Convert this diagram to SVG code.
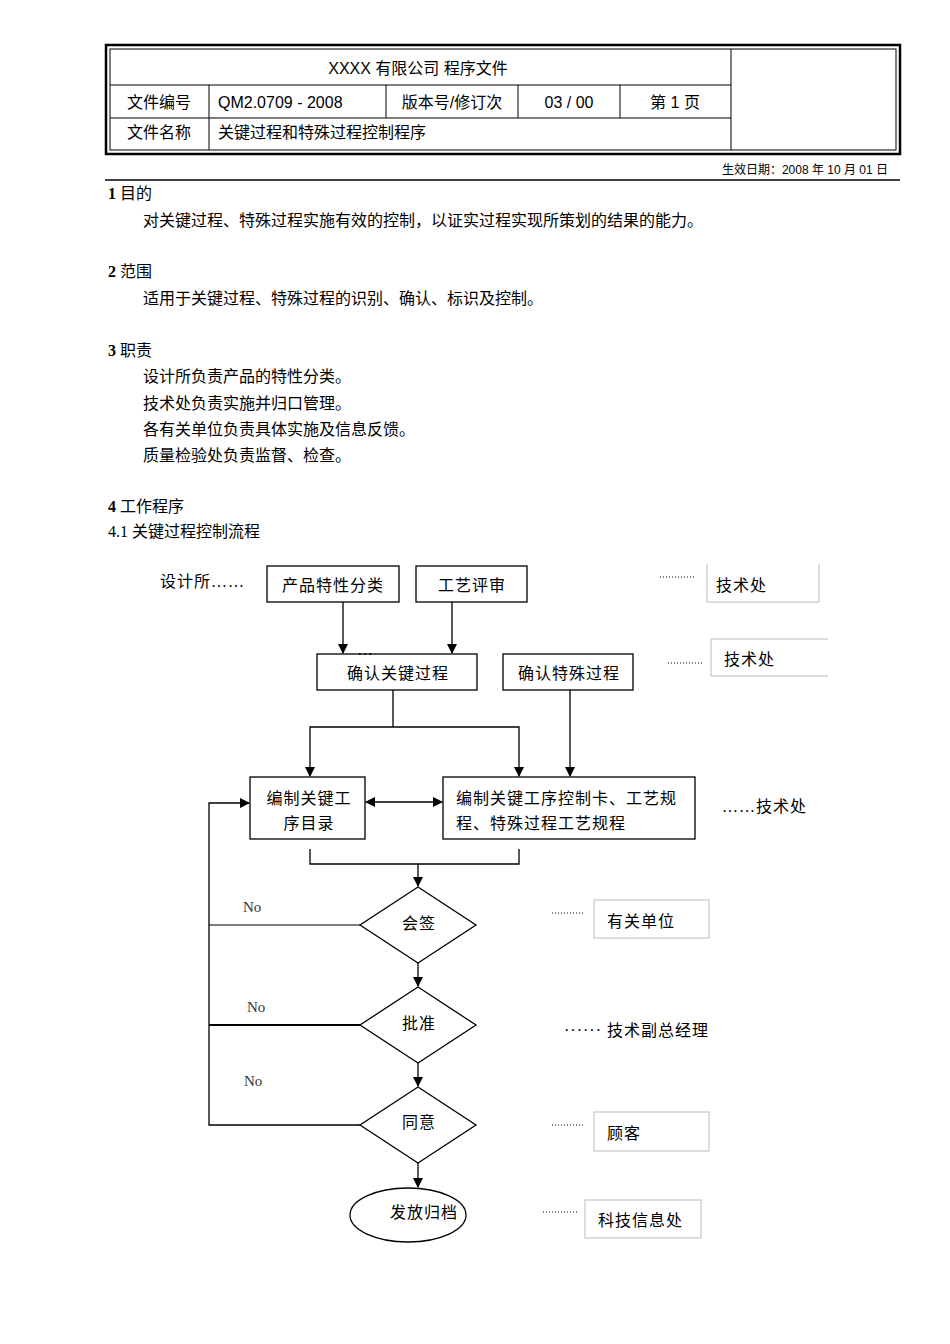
<svg xmlns="http://www.w3.org/2000/svg" width="950" height="1344" viewBox="0 0 950 1344">
<style>
.h{font-family:"Liberation Sans","Noto Sans CJK SC",sans-serif;font-size:16px;fill:#000}
.s{font-family:"Liberation Sans","Noto Sans CJK SC",sans-serif;font-size:12px;fill:#000}
.t{font-family:"Liberation Serif","Noto Sans CJK SC",serif;font-size:16px;fill:#000}
.f{font-family:"Liberation Serif","Noto Sans CJK SC",serif;font-size:16px;letter-spacing:1px;fill:#000}
.n{font-family:"Liberation Serif","Noto Sans CJK SC",serif;font-size:15px;fill:#333}
.b{fill:#fff;stroke:#000;stroke-width:1.3}
.g{fill:#fff;stroke:#bbb;stroke-width:1}
.l{fill:none;stroke:#000;stroke-width:1.3}
.d{fill:none;stroke:#000;stroke-width:1;stroke-dasharray:1 2}
</style>
<defs><marker id="a" markerWidth="10" markerHeight="10" refX="9" refY="5" orient="auto-start-reverse" markerUnits="userSpaceOnUse"><path d="M0,0 L10,5 L0,10 z" fill="#000"/></marker></defs>
<rect width="950" height="1344" fill="#fff"/>
<g id="header">
<rect x="106" y="45" width="794" height="109" fill="none" stroke="#000" stroke-width="2.5"/>
<rect x="110" y="49" width="786" height="101" fill="none" stroke="#000" stroke-width="1"/>
<line x1="731" y1="49" x2="731" y2="150" stroke="#000"/>
<line x1="110" y1="85" x2="731" y2="85" stroke="#000"/>
<line x1="110" y1="118" x2="731" y2="118" stroke="#000"/>
<line x1="209" y1="85" x2="209" y2="150" stroke="#000"/>
<line x1="386" y1="85" x2="386" y2="118" stroke="#000"/>
<line x1="518" y1="85" x2="518" y2="118" stroke="#000"/>
<line x1="620" y1="85" x2="620" y2="118" stroke="#000"/>
<text class="h" x="418" y="74" text-anchor="middle" font-size="17">XXXX 有限公司 程序文件</text>
<text class="h" x="159" y="108" text-anchor="middle">文件编号</text>
<text class="h" x="218" y="108">QM2.0709 - 2008</text>
<text class="h" x="452" y="108" text-anchor="middle">版本号/修订次</text>
<text class="h" x="569" y="108" text-anchor="middle">03 / 00</text>
<text class="h" x="675" y="108" text-anchor="middle">第 1 页</text>
<text class="h" x="159" y="138" text-anchor="middle">文件名称</text>
<text class="h" x="218" y="138">关键过程和特殊过程控制程序</text>
<text class="s" x="888" y="174" text-anchor="end" font-size="13">生效日期：2008 年 10 月 01 日</text>
<line x1="105" y1="180" x2="900" y2="180" stroke="#000" stroke-width="1.3"/>
</g>
<g id="body">
<text class="t" x="108" y="199"><tspan font-weight="bold">1</tspan>  目的</text>
<text class="t" x="143" y="226">对关键过程、特殊过程实施有效的控制，以证实过程实现所策划的结果的能力。</text>
<text class="t" x="108" y="277"><tspan font-weight="bold">2</tspan>  范围</text>
<text class="t" x="143" y="304">适用于关键过程、特殊过程的识别、确认、标识及控制。</text>
<text class="t" x="108" y="356"><tspan font-weight="bold">3</tspan>  职责</text>
<text class="t" x="143" y="382">设计所负责产品的特性分类。</text>
<text class="t" x="143" y="409">技术处负责实施并归口管理。</text>
<text class="t" x="143" y="435">各有关单位负责具体实施及信息反馈。</text>
<text class="t" x="143" y="461">质量检验处负责监督、检查。</text>
<text class="t" x="108" y="512"><tspan font-weight="bold">4</tspan>  工作程序</text>
<text class="t" x="108" y="537">4.1 关键过程控制流程</text>
</g>
<g id="connectors">
<line class="l" x1="343" y1="602" x2="343" y2="653" marker-end="url(#a)"/>
<line class="l" x1="452" y1="602" x2="452" y2="653" marker-end="url(#a)"/>
<polyline class="l" points="393,690 393,727"/>
<polyline class="l" points="310,776 310,727 519,727 519,776" marker-start="url(#a)" marker-end="url(#a)"/>
<line class="l" x1="570" y1="690" x2="570" y2="776" marker-end="url(#a)"/>
<line class="l" x1="366" y1="802" x2="442" y2="802" marker-start="url(#a)" marker-end="url(#a)"/>
<polyline class="l" points="310,849 310,864 519,864 519,849"/>
<line class="l" x1="418" y1="864" x2="418" y2="886" marker-end="url(#a)"/>
<line class="l" x1="418" y1="963" x2="418" y2="986" marker-end="url(#a)"/>
<line class="l" x1="418" y1="1063" x2="418" y2="1086" marker-end="url(#a)"/>
<line class="l" x1="418" y1="1163" x2="418" y2="1187" marker-end="url(#a)"/>
<polyline class="l" points="360,1125 209,1125 209,803 249,803" marker-end="url(#a)"/>
<line x1="209" y1="925" x2="360" y2="925" stroke="#000" stroke-width="1"/>
<line x1="209" y1="1025" x2="360" y2="1025" stroke="#000" stroke-width="2"/>
<text class="n" x="243" y="912">No</text>
<text class="n" x="247" y="1012">No</text>
<text class="n" x="244" y="1086">No</text>
</g>
<g id="n1"><text class="f" x="160" y="587">设计所……</text></g>
<g id="n2"><rect class="b" x="267" y="566" width="132" height="36"/><text class="f" x="333" y="591" text-anchor="middle">产品特性分类</text></g>
<g id="n3"><rect class="b" x="416" y="566" width="111" height="36"/><text class="f" x="472" y="591" text-anchor="middle">工艺评审</text></g>
<g id="n4"><line class="d" x1="660" y1="577" x2="695" y2="577"/><polyline class="g" points="707,564 707,602 819,602 819,564"/><text class="f" x="716" y="591">技术处</text></g>
<g id="n5"><rect class="b" x="317" y="654" width="160" height="36"/><text class="t" x="357" y="655" font-size="11">…</text><text class="f" x="398" y="679" text-anchor="middle">确认关键过程</text></g>
<g id="n6"><rect class="b" x="503" y="654" width="130" height="36"/><text class="f" x="569" y="679" text-anchor="middle">确认特殊过程</text></g>
<g id="n7"><line class="d" x1="668" y1="663" x2="703" y2="663"/><polyline class="g" points="828,639 711,639 711,676 828,676"/><text class="f" x="724" y="665">技术处</text></g>
<g id="n8"><rect class="b" x="250" y="777" width="115" height="62"/><text class="f" x="309" y="804" text-anchor="middle">编制关键工</text><text class="f" x="309" y="829" text-anchor="middle">序目录</text></g>
<g id="n9"><rect class="b" x="443" y="777" width="252" height="62"/><text class="f" x="456" y="804">编制关键工序控制卡、工艺规</text><text class="f" x="456" y="829">程、特殊过程工艺规程</text></g>
<g id="n10"><text class="f" x="722" y="812">……技术处</text></g>
<g id="n11"><polygon class="b" points="418,887 476,925 418,963 360,925"/><text class="f" x="419" y="929" text-anchor="middle">会签</text></g>
<g id="n12"><line class="d" x1="552" y1="913" x2="585" y2="913"/><rect class="g" x="594" y="900" width="115" height="38"/><text class="f" x="607" y="927">有关单位</text></g>
<g id="n13"><polygon class="b" points="418,987 476,1025 418,1063 360,1025"/><text class="f" x="419" y="1029" text-anchor="middle">批准</text></g>
<g id="n14"><text class="f" x="564" y="1036">······ 技术副总经理</text></g>
<g id="n15"><polygon class="b" points="418,1087 476,1125 418,1163 360,1125"/><text class="f" x="419" y="1128" text-anchor="middle">同意</text></g>
<g id="n16"><line class="d" x1="552" y1="1125" x2="585" y2="1125"/><rect class="g" x="594" y="1112" width="115" height="39"/><text class="f" x="607" y="1139">顾客</text></g>
<g id="n17"><ellipse class="b" cx="408" cy="1215" rx="58" ry="27"/><text class="f" x="424" y="1218" text-anchor="middle">发放归档</text></g>
<g id="n18"><line class="d" x1="543" y1="1212" x2="577" y2="1212"/><rect class="g" x="585" y="1200" width="116" height="38"/><text class="f" x="598" y="1226">科技信息处</text></g>
</svg>
